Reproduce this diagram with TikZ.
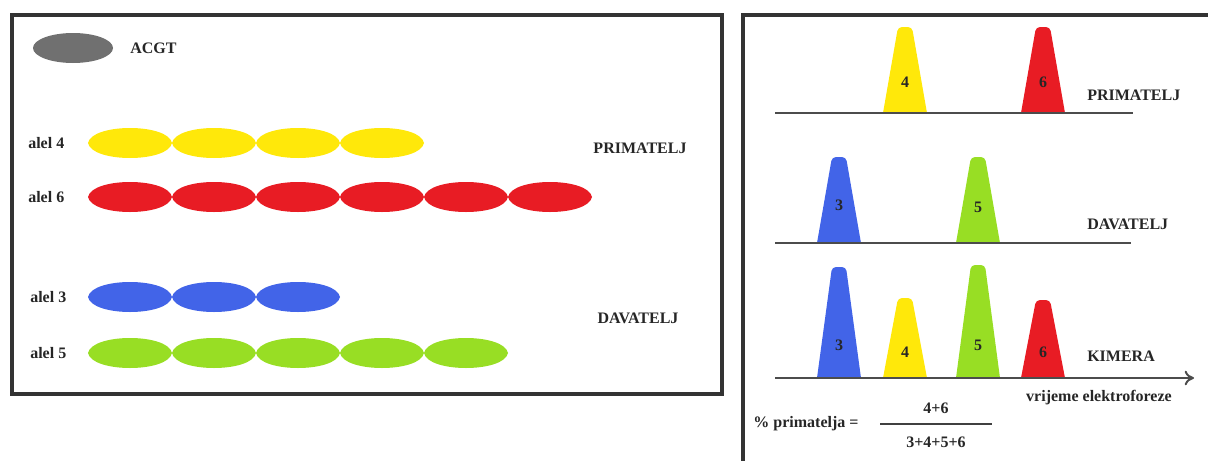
\documentclass[tikz,border=0pt]{standalone}
\usepackage{fontspec}
\setmainfont{Liberation Serif}
\usetikzlibrary{arrows.meta,positioning}

\definecolor{alelyellow}{RGB}{255,232,10}
\definecolor{alelred}{RGB}{232,28,36}
\definecolor{alelblue}{RGB}{66,100,232}
\definecolor{alelgreen}{RGB}{152,222,36}
\definecolor{acgtgray}{RGB}{112,112,112}

% one row of beads: y, count, colour
\newcommand{\alelrow}[3]{%
  \foreach \i in {1,...,#2}{
    \pgfmathsetmacro{\xa}{88+(\i-1)*84}
    \fill[#3] (\xa,#1) .. controls (\xa+4,#1-20) and (\xa+80,#1-20) .. (\xa+84,#1)
      .. controls (\xa+80,#1+20) and (\xa+4,#1+20) .. cycle;
  }}

% one peak: centre x, top y, base y, colour, number y, name, number
\newcommand{\peak}[7]{%
  \fill[#4] (#1-22,#3) [rounded corners=3pt] -- (#1-7,#2) -- (#1+7,#2) [sharp corners] -- (#1+22,#3) -- cycle;
  \node[num] (#6) at (#1,#5) {#7};
}

\begin{document}
\begin{tikzpicture}[x=0.75pt,y=-0.75pt,
    lbl/.style={font=\fontsize{12}{14}\selectfont\bfseries, inner sep=0pt, text=black!85},
    num/.style={font=\fontsize{12}{14}\selectfont\bfseries, inner sep=0pt, text=black!85},
    frame/.style={draw=black!80, line width=2.4pt},
    axis/.style={draw=black!70, line width=1.5pt}]
    \useasboundingbox (0,0) rectangle (1208,461);

    % left panel: alleles
    \draw[frame] (12,15) rectangle (722,394);
    \fill[acgtgray] (73,48) ellipse [x radius=40, y radius=15];
    \node[lbl, anchor=west] (acgt) at (130,48) {ACGT};

    \alelrow{143}{4}{alelyellow}
    \alelrow{197}{6}{alelred}
    \alelrow{297}{3}{alelblue}
    \alelrow{353}{5}{alelgreen}

    \node[lbl, anchor=west] (alel4) at (28,143) {alel 4};
    \node[lbl, anchor=west] (alel6) at (28,197) {alel 6};
    \node[lbl, anchor=west] (alel3) at (30,297) {alel 3};
    \node[lbl, anchor=west] (alel5) at (30,353) {alel 5};

    \node[lbl] (primL) at (640,148) {PRIMATELJ};
    \node[lbl] (davL) at (638,318) {DAVATELJ};

    % right panel: electrophoresis
    \draw[frame] (743,470) -- (743,15) -- (1215,15);

    \peak{905}{27}{113}{alelyellow}{82}{p4}{4}
    \peak{1043}{27}{113}{alelred}{82}{p6}{6}
    \coordinate (primA) at (775,113);
    \coordinate (primB) at (1133,113);
    \draw[axis] (primA) -- (primB);
    \node[lbl, anchor=west] (primR) at (1087,95) {PRIMATELJ};

    \peak{839}{157}{243}{alelblue}{205}{d3}{3}
    \peak{978}{157}{243}{alelgreen}{207}{d5}{5}
    \coordinate (davA) at (775,243);
    \coordinate (davB) at (1131,243);
    \draw[axis] (davA) -- (davB);
    \node[lbl, anchor=west] (davR) at (1087,224) {DAVATELJ};

    \peak{839}{267}{378}{alelblue}{345}{k3}{3}
    \peak{905}{298}{378}{alelyellow}{352}{k4}{4}
    \peak{978}{265}{378}{alelgreen}{345}{k5}{5}
    \peak{1043}{300}{378}{alelred}{352}{k6}{6}
    \coordinate (kimA) at (775,378);
    \coordinate (kimB) at (1194,378);
    \draw[axis, -{To[length=7pt,width=11pt]}] (kimA) -- (kimB);
    \node[lbl, anchor=west] (kimR) at (1087,356) {KIMERA};
    \node[lbl] (time) at (1099,398) {vrijeme elektroforeze};

    % share of the recipient
    \node[lbl] (share) at (806,424) {\% primatelja =};
    \coordinate (fracA) at (880,424);
    \coordinate (fracB) at (992,424);
    \draw[black!75, line width=1pt] (fracA) -- (fracB);
    \node[lbl] (numer) at (936,408) {4+6};
    \node[lbl] (denom) at (936,442) {3+4+5+6};
\end{tikzpicture}
\end{document}
